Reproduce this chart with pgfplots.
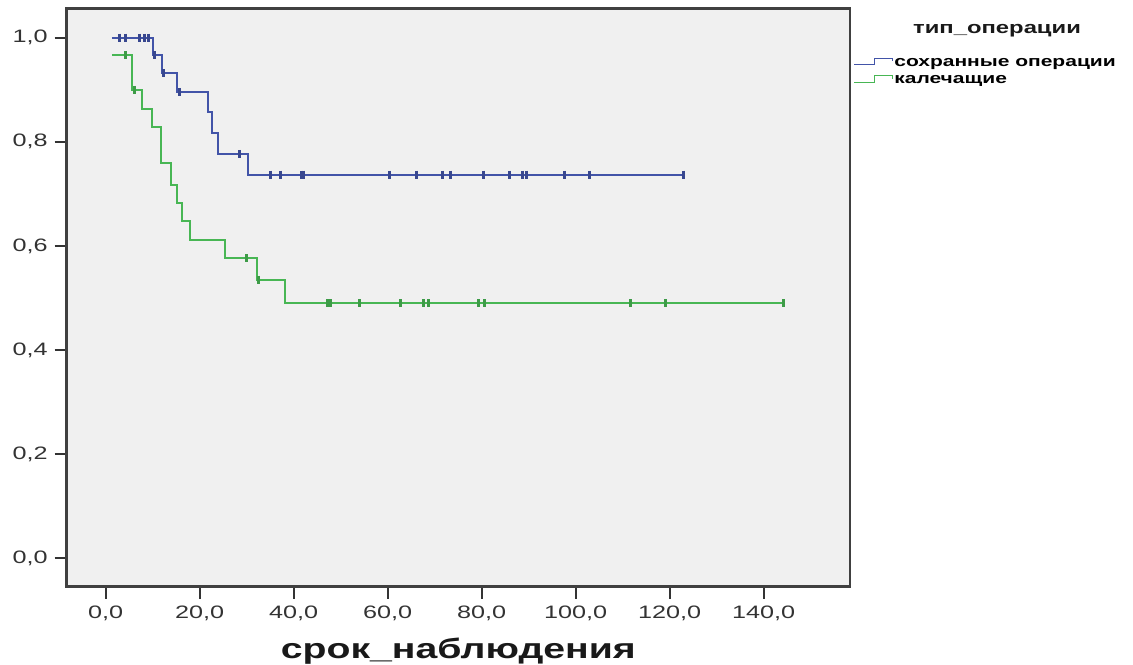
\documentclass[border=0pt]{standalone}
\usepackage{fontspec}
\setmainfont{Liberation Sans}[FakeStretch=1.4]
\usepackage{pgfplots}
\pgfplotsset{compat=1.18}
\definecolor{kmblue}{RGB}{66,84,168}
\definecolor{kmgreen}{RGB}{72,182,84}
\definecolor{panel}{RGB}{240,240,240}
\begin{document}
\begin{tikzpicture}
\useasboundingbox (-33.35pt,-38.65pt) rectangle (533.15pt,293.35pt);
\begin{axis}[
  at={(0,0)}, anchor=south west,
  scale only axis, width=391.65pt, height=289.2pt,
  xmin=-8.3, xmax=158.4, ymin=-0.0546, ymax=1.0565,
  axis background/.style={fill=panel},
  axis line style={black!75, line width=1.3pt},
  xtick={0,20,40,60,80,100,120,140},
  ytick={0,0.2,0.4,0.6,0.8,1},
  xtick pos=left, ytick pos=left, tick align=outside,
  major tick length=6pt,
  tick style={black!80, line width=1pt},
  tick label style={font=\fontsize{9}{10}\selectfont, black!80},
  /pgf/number format/.cd, fixed, fixed zerofill, precision=1, use comma, assume math mode=true,
  /pgfplots/.cd,
  xlabel={\bfseries срок\_наблюдения},
  xlabel style={at={(0.5,0)}, anchor=base, yshift=-36pt, font=\fontsize{14}{16}\selectfont, black!90},
  legend style={at={(1.004,0.9227)}, anchor=north west, draw=none, fill=none,
    font=\bfseries\fontsize{7.5}{8}\selectfont, inner sep=0pt, row sep=0pt,
    nodes={inner sep=0.8pt, text height=5.6pt, text depth=1.6pt}},
  legend cell align=left,
  legend image code/.code={\draw[#1, line width=0.6pt] (0pt,-1.2pt) -- (10pt,-1.2pt) -- (10pt,2pt) -- (19pt,2pt) -- (19pt,0.6pt);},
]
% сохранные операции
\addplot[const plot, kmblue, line width=1pt] coordinates {
  (1.3,1.0)(10.1,0.967)(11.9,0.932)(15.1,0.896)(21.8,0.857)(22.6,0.817)
  (24.0,0.777)(30.3,0.737)(122.9,0.737)
};
\addlegendentry{сохранные операции}
% калечащие
\addplot[const plot, kmgreen, line width=1pt] coordinates {
  (1.3,0.967)(5.7,0.900)(7.7,0.864)(9.8,0.829)(11.8,0.759)(14.0,0.717)
  (15.1,0.682)(16.2,0.647)(17.9,0.611)(25.4,0.576)(32.1,0.535)(38.1,0.490)
  (144.2,0.490)
};
\addlegendentry{калечащие}
% censored observations
\addplot[only marks, mark=|, mark size=2pt, kmblue!85!black, mark options={line width=1.5pt}, forget plot] coordinates {
  (3.0,1.0)(4.2,1.0)(7.2,1.0)(8.2,1.0)(9.2,1.0)
  (10.4,0.967)(12.2,0.932)(15.6,0.896)(28.5,0.777)
  (35.0,0.737)(37.2,0.737)(41.7,0.737)(42.2,0.737)(60.5,0.737)(66.2,0.737)
  (71.7,0.737)(73.3,0.737)(80.3,0.737)(85.9,0.737)(88.7,0.737)(89.6,0.737)
  (97.7,0.737)(102.9,0.737)(122.9,0.737)
};
\addplot[only marks, mark=|, mark size=2pt, kmgreen!85!black, mark options={line width=1.5pt}, forget plot] coordinates {
  (4.2,0.967)(6.2,0.900)(30.0,0.576)(32.5,0.535)
  (47.2,0.490)(47.8,0.490)(54.1,0.490)(62.7,0.490)(67.6,0.490)(68.8,0.490)
  (79.3,0.490)(80.7,0.490)(111.6,0.490)(119.2,0.490)(144.2,0.490)
};
\end{axis}
\node[font=\bfseries\fontsize{8.5}{9}\selectfont, black!90] at (465.15pt,277.85pt) {тип\_операции};
\end{tikzpicture}
\end{document}
